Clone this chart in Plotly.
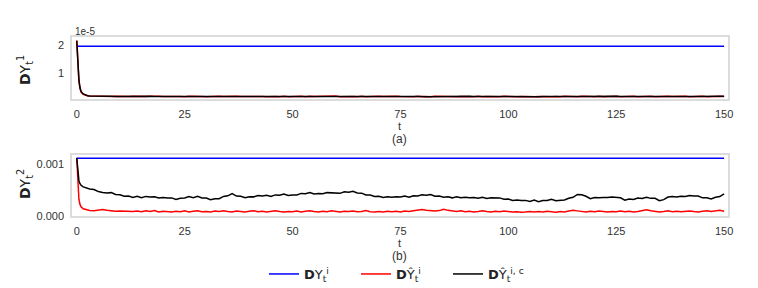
import plotly.graph_objects as go

# ---- data ----
# time grid (fine near t=0, then unit steps)
T = [0, 0.25, 0.5, 0.75, 1, 1.5, 2, 2.5, 3] + list(range(4, 151))

# top panel, units of 1e-5
TOP_BLUE = 1.96
TOP_RED = [2.16, 1.30, 0.72, 0.45, 0.32, 0.24, 0.20, 0.185, 0.175,
    0.168, 0.175, 0.163, 0.170, 0.160, 0.168, 0.158, 0.171, 0.161, 0.166,
    0.155, 0.167, 0.158, 0.170, 0.154, 0.165, 0.160, 0.152, 0.168, 0.157,
    0.162, 0.150, 0.166, 0.156, 0.169, 0.158, 0.153, 0.164, 0.155, 0.167,
    0.157, 0.166, 0.152, 0.170, 0.159, 0.164, 0.151, 0.168, 0.156, 0.162,
    0.153, 0.169, 0.158, 0.155, 0.166, 0.150, 0.163, 0.157, 0.168, 0.154,
    0.171, 0.156, 0.162, 0.152, 0.167, 0.158, 0.173, 0.155, 0.164, 0.151,
    0.163, 0.155, 0.169, 0.152, 0.161, 0.149, 0.165, 0.157, 0.166, 0.150,
    0.168, 0.158, 0.153, 0.166, 0.155, 0.170, 0.152, 0.162, 0.151, 0.167,
    0.160, 0.172, 0.154, 0.165, 0.151, 0.163, 0.155, 0.169, 0.153, 0.164,
    0.148, 0.162, 0.154, 0.166, 0.150, 0.164, 0.156, 0.167, 0.149, 0.160,
    0.152, 0.165, 0.150, 0.161, 0.153, 0.168, 0.155, 0.163, 0.152, 0.170,
    0.158, 0.171, 0.153, 0.166, 0.151, 0.162, 0.155, 0.169, 0.152, 0.164,
    0.156, 0.170, 0.154, 0.163, 0.150, 0.167, 0.153, 0.161, 0.152, 0.168,
    0.155, 0.164, 0.151, 0.170, 0.157, 0.165, 0.153, 0.168, 0.150, 0.163,
    0.156, 0.169, 0.152, 0.166, 0.158, 0.171, 0.160]
TOP_BLACK = [2.16, 1.34, 0.76, 0.48, 0.34, 0.25, 0.21, 0.19, 0.18,
    0.172, 0.168, 0.170, 0.165, 0.167, 0.163, 0.166, 0.162, 0.165, 0.160,
    0.163, 0.158, 0.161, 0.164, 0.159, 0.162, 0.157, 0.160, 0.163, 0.158,
    0.155, 0.159, 0.162, 0.157, 0.160, 0.164, 0.158, 0.156, 0.161, 0.159,
    0.163, 0.160, 0.157, 0.162, 0.166, 0.161, 0.158, 0.163, 0.159, 0.156,
    0.160, 0.164, 0.159, 0.162, 0.157, 0.155, 0.160, 0.163, 0.158, 0.161,
    0.165, 0.160, 0.157, 0.161, 0.159, 0.163, 0.167, 0.162, 0.158, 0.160,
    0.156, 0.159, 0.163, 0.160, 0.157, 0.154, 0.158, 0.162, 0.159, 0.156,
    0.160, 0.164, 0.161, 0.157, 0.160, 0.163, 0.159, 0.155, 0.158, 0.162,
    0.166, 0.161, 0.158, 0.162, 0.159, 0.156, 0.160, 0.164, 0.160, 0.157,
    0.153, 0.157, 0.161, 0.158, 0.155, 0.159, 0.163, 0.158, 0.155, 0.152,
    0.156, 0.160, 0.157, 0.154, 0.158, 0.162, 0.159, 0.156, 0.160, 0.163,
    0.167, 0.162, 0.158, 0.161, 0.158, 0.155, 0.159, 0.163, 0.160, 0.157,
    0.161, 0.165, 0.160, 0.156, 0.159, 0.162, 0.158, 0.155, 0.159, 0.163,
    0.160, 0.157, 0.161, 0.165, 0.161, 0.158, 0.162, 0.159, 0.156, 0.160,
    0.164, 0.160, 0.157, 0.161, 0.165, 0.162, 0.166]

# bottom panel, units of 1e-4
BOT_BLUE = 11.15
BOT_RED = [11.2, 5.6, 3.2, 2.2, 1.75, 1.35, 1.2, 1.1, 1.02,
    0.98, 1.12, 1.20, 1.05, 0.95, 0.90, 0.92, 0.86, 0.90, 0.84,
    0.91, 0.79, 0.95, 0.85, 1.01, 0.75, 0.89, 0.83, 0.71, 0.87,
    0.79, 0.95, 0.75, 0.87, 0.99, 0.77, 0.85, 0.73, 0.91, 0.81,
    0.95, 0.83, 0.75, 0.93, 0.81, 0.71, 0.87, 0.99, 0.79, 0.89,
    0.75, 0.87, 0.97, 0.81, 0.71, 0.85, 0.79, 0.93, 0.75, 0.87,
    0.99, 0.83, 0.75, 0.89, 0.79, 0.95, 0.85, 0.73, 0.87, 0.81,
    0.91, 0.77, 0.85, 1.01, 0.79, 0.71, 0.83, 0.75, 0.89, 0.79,
    0.87, 0.75, 0.93, 0.83, 0.99, 1.05, 1.22, 1.08, 0.95, 0.91,
    1.00, 1.25, 1.05, 0.99, 0.85, 0.95, 0.79, 0.89, 0.75, 0.85,
    0.99, 0.81, 0.73, 0.87, 0.77, 0.91, 0.83, 0.71, 0.79, 0.67,
    0.75, 0.85, 0.71, 0.81, 0.73, 0.87, 0.77, 0.69, 0.83, 0.75,
    0.91, 1.05, 0.95, 0.83, 0.75, 0.87, 0.79, 0.91, 0.81, 0.73,
    0.85, 0.77, 0.91, 0.79, 0.87, 0.75, 0.85, 1.05, 1.18, 0.99,
    0.87, 0.75, 0.83, 0.95, 0.79, 0.89, 0.77, 0.85, 0.93, 0.81,
    0.75, 0.87, 0.99, 0.83, 0.91, 1.05, 0.87]
BOT_BLACK = [11.2, 8.2, 6.8, 6.2, 5.9, 5.6, 5.45, 5.3, 5.2,
    5.08, 4.68, 4.52, 4.40, 4.48, 4.12, 4.05, 3.78, 3.82, 3.55,
    3.78, 3.50, 3.75, 3.64, 3.70, 3.46, 3.55, 3.42, 3.46, 3.16,
    3.38, 3.46, 3.72, 3.50, 3.75, 3.45, 3.42, 3.10, 3.30, 3.32,
    3.74, 3.86, 4.28, 3.82, 3.78, 3.50, 3.70, 3.66, 3.94, 3.84,
    3.96, 3.72, 4.04, 3.96, 4.20, 3.94, 4.04, 4.02, 4.33, 4.28,
    4.52, 4.22, 4.30, 4.26, 4.48, 4.40, 4.43, 4.34, 4.63, 4.54,
    4.72, 4.42, 4.38, 4.02, 4.00, 3.72, 3.78, 3.54, 3.66, 3.57,
    3.68, 3.62, 3.84, 3.60, 3.88, 3.84, 4.06, 3.97, 4.10, 3.77,
    3.83, 3.60, 3.68, 3.47, 3.70, 3.50, 3.58, 3.47, 3.53, 3.40,
    3.60, 3.37, 3.48, 3.40, 3.46, 3.22, 3.23, 2.97, 3.03, 2.94,
    2.98, 2.77, 3.03, 2.74, 2.96, 2.97, 3.18, 2.90, 2.93, 3.04,
    3.38, 3.57, 4.13, 4.07, 3.78, 3.32, 3.53, 3.47, 3.56, 3.52,
    3.63, 3.54, 3.48, 3.02, 3.23, 3.17, 3.43, 3.34, 3.58, 3.37,
    3.38, 2.92, 3.13, 3.62, 3.73, 3.64, 3.76, 3.72, 3.93, 3.84,
    3.83, 3.47, 3.48, 3.27, 3.58, 3.72, 4.25]

X_TICKS = [0, 25, 50, 75, 100, 125, 150]
TOP_TICKS = [1, 2]
BOT_TICKS = [0.0, 0.001]
NAMES = ["<b>D</b>Y<sub>t</sub><sup>i</sup>",
         "<b>D</b>Ŷ<sub>t</sub><sup>i</sup>",
         "<b>D</b>Ŷ<sub>t</sub><sup>i, c</sup>"]
COLORS = ["#0000ff", "#ff0000", "#000000"]

bot_red = [v * 1e-4 for v in BOT_RED]
bot_black = [v * 1e-4 for v in BOT_BLACK]
bot_blue = BOT_BLUE * 1e-4

# the page body has an 8px margin, so the figure is drawn 8px in from the corner
OFF = 8
W, H = 758 - OFF, 288 - OFF
def px(x):
    return (x - OFF) / W
def py(y):
    return 1 - (y - OFF) / H

fig = go.Figure()
# top panel
fig.add_trace(go.Scatter(x=[T[0], T[-1]], y=[TOP_BLUE, TOP_BLUE], mode="lines",
                         line=dict(color=COLORS[0], width=1.5), name=NAMES[0],
                         xaxis="x", yaxis="y"))
fig.add_trace(go.Scatter(x=T, y=TOP_RED, mode="lines",
                         line=dict(color=COLORS[1], width=1.5), name=NAMES[1],
                         xaxis="x", yaxis="y"))
fig.add_trace(go.Scatter(x=T, y=TOP_BLACK, mode="lines",
                         line=dict(color=COLORS[2], width=1.5), name=NAMES[2],
                         xaxis="x", yaxis="y"))
# bottom panel
fig.add_trace(go.Scatter(x=[T[0], T[-1]], y=[bot_blue, bot_blue], mode="lines",
                         line=dict(color=COLORS[0], width=1.5), showlegend=False,
                         xaxis="x2", yaxis="y2"))
fig.add_trace(go.Scatter(x=T, y=bot_red, mode="lines",
                         line=dict(color=COLORS[1], width=1.5), showlegend=False,
                         xaxis="x2", yaxis="y2"))
fig.add_trace(go.Scatter(x=T, y=bot_black, mode="lines",
                         line=dict(color=COLORS[2], width=1.5), showlegend=False,
                         xaxis="x2", yaxis="y2"))

tickfont = dict(family="Liberation Sans, Arial, sans-serif", size=11, color="#333333")
axis_common = dict(showgrid=False, zeroline=False, showline=True, mirror=True,
                   linecolor="#dcdcdc", linewidth=1.5, tickfont=tickfont,
                   ticks="outside", ticklen=4, tickcolor="rgba(0,0,0,0)",
                   automargin=False)
xdom = [px(72), px(728)]
fig.update_layout(
    width=W, height=H, margin=dict(l=0, r=0, t=0, b=0, autoexpand=False),
    plot_bgcolor="white", paper_bgcolor="white",
    xaxis=dict(domain=xdom, range=[-1.1, 150.9], tickvals=X_TICKS, anchor="y", **axis_common),
    yaxis=dict(domain=[py(99), py(37)], range=[0.07, 2.29], tickvals=TOP_TICKS, anchor="x", **axis_common),
    xaxis2=dict(domain=xdom, range=[-1.1, 150.9], tickvals=X_TICKS, anchor="y2", **axis_common),
    yaxis2=dict(domain=[py(216.3), py(154.8)], range=[-0.00001, 0.00118], tickvals=BOT_TICKS,
                tickformat=".3f", anchor="x2", **axis_common),
    legend=dict(orientation="h", x=px(264), y=py(274), xanchor="left", yanchor="middle",
                font=dict(family="DejaVu Sans", size=13, color="#222222"),
                entrywidth=47, entrywidthmode="pixels", bgcolor="rgba(0,0,0,0)"),
)

labfont = dict(family="Liberation Sans, Arial, sans-serif", size=12, color="#333333")
tfont = dict(family="Liberation Sans, Arial, sans-serif", size=11, color="#333333")
ann = [
    dict(text="1e-5", x=px(73), y=py(31.5), xanchor="left", yanchor="middle",
         font=dict(family="Liberation Sans, Arial, sans-serif", size=10, color="#333333")),
    dict(text="t", x=px(400), y=py(126), xanchor="center", yanchor="middle", font=tfont),
    dict(text="(a)", x=px(400), y=py(138.5), xanchor="center", yanchor="middle", font=labfont),
    dict(text="t", x=px(400), y=py(243), xanchor="center", yanchor="middle", font=tfont),
    dict(text="(b)", x=px(400), y=py(256), xanchor="center", yanchor="middle", font=labfont),
    dict(text="<b>D</b>Y<sub>t</sub><sup>1</sup>", x=px(25), y=py(70), textangle=-90,
         xanchor="center", yanchor="middle",
         font=dict(family="DejaVu Sans", size=14, color="#222222")),
    dict(text="<b>D</b>Y<sub>t</sub><sup>2</sup>", x=px(25), y=py(184), textangle=-90,
         xanchor="center", yanchor="middle",
         font=dict(family="DejaVu Sans", size=14, color="#222222")),
]
for a in ann:
    a.update(xref="paper", yref="paper", showarrow=False)
fig.update_layout(annotations=ann)

fig.write_html("out.html")
